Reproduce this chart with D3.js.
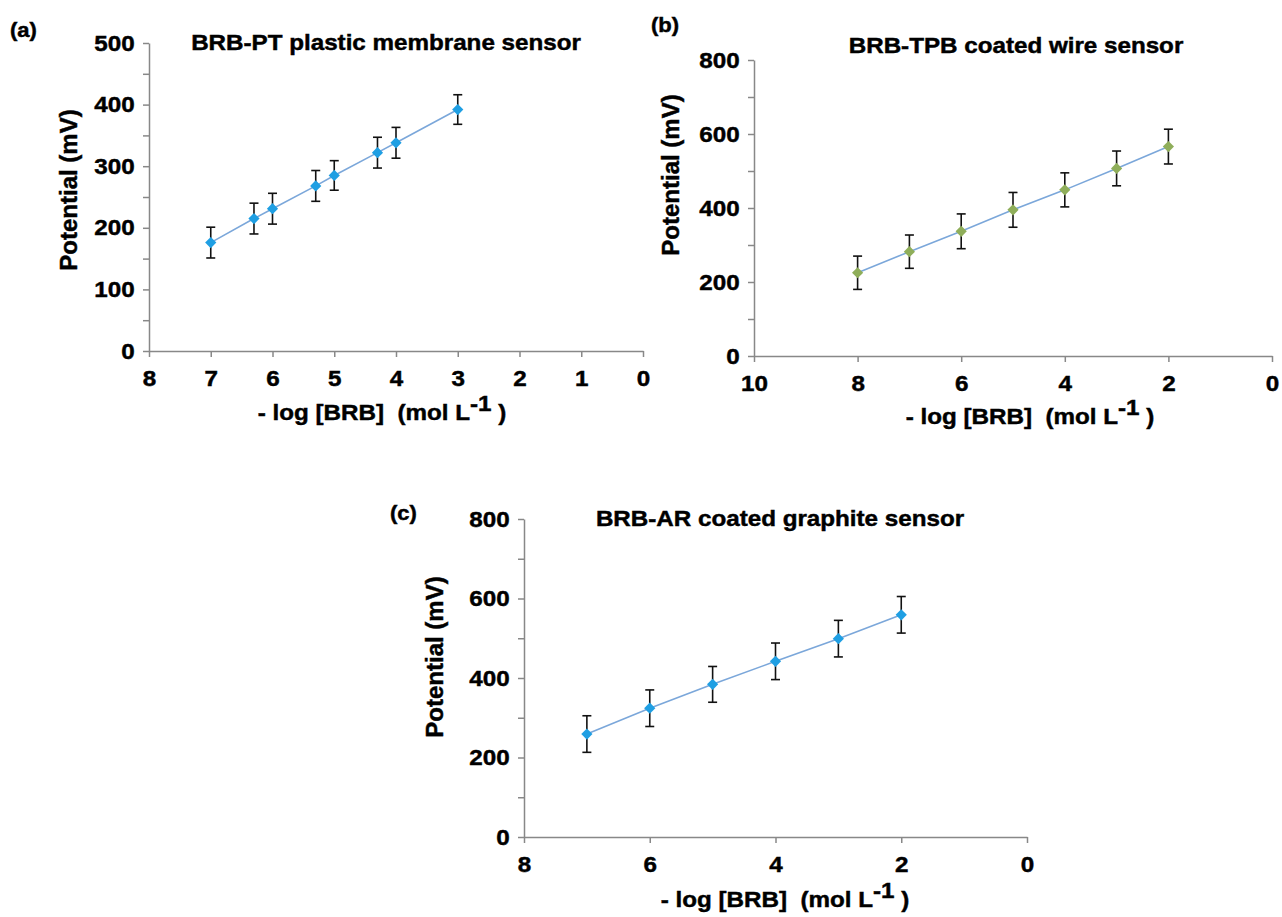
<!DOCTYPE html>
<html>
<head>
<meta charset="utf-8">
<script src="https://cdn.jsdelivr.net/npm/d3@7"></script>
<style>
  body { margin: 0; background: #fff; }
  svg { font-family: "Liberation Sans", Arial, sans-serif; font-weight: bold; }
  svg text { stroke: #000; stroke-width: 0.45; white-space: pre; }
  .axis path, .axis line { stroke: #888; stroke-width: 1.5; }
  .axis text { fill: #000; font-size: 22px; font-weight: bold; }
</style>
</head>
<body>
<svg id="chart" width="1282" height="917"></svg>
<script>
// panel (a) BRB-PT plastic membrane sensor
const xA = [7, 6.3, 6, 5.3, 5, 4.3, 4, 3];
const yA = [176, 215, 231, 268, 285, 322, 338, 392];
const errA = [25, 25, 25, 25, 24, 25, 25, 24];
// panel (b) BRB-TPB coated wire sensor
const xB = [8, 7, 6, 5, 4, 3, 2];
const yB = [225, 282, 337, 395, 449, 507, 566];
const errB = [45, 45, 47, 47, 46, 47, 47];
// panel (c) BRB-AR coated graphite sensor
const xC = [7, 6, 5, 4, 3, 2];
const yC = [259, 324, 384, 442, 499, 559];
const errC = [46, 46, 45, 46, 46, 46];

const titles = ["BRB-PT plastic membrane sensor", "BRB-TPB coated wire sensor", "BRB-AR coated graphite sensor"];
const tags = ["(a)", "(b)", "(c)"];

const SX = 1.1; // text looks a bit wider than plain Arial
const svg = d3.select("#chart");

const panels = [
  { x: xA, y: yA, err: errA, title: titles[0], tag: tags[0], mark: "#1f9fe3",
    xdom: [8, 0], xr: [149, 643], xticks: d3.range(0, 9, 1),
    ydom: [0, 500], yr: [351, 43], yticks: d3.range(0, 501, 50), ymaj: 100,
    titlePos: [386, 50], tagPos: [10, 37], ylabPos: [68, 190], xlabPos: [382, 420] },
  { x: xB, y: yB, err: errB, title: titles[1], tag: tags[1], mark: "#8fae5a",
    xdom: [10, 0], xr: [754, 1272], xticks: d3.range(0, 11, 2),
    ydom: [0, 800], yr: [356, 60], yticks: d3.range(0, 801, 100), ymaj: 200,
    titlePos: [1016, 53], tagPos: [651, 32], ylabPos: [670, 175], xlabPos: [1030, 424] },
  { x: xC, y: yC, err: errC, title: titles[2], tag: tags[2], mark: "#1f9fe3",
    xdom: [8, 0], xr: [524, 1027], xticks: d3.range(0, 9, 2),
    ydom: [0, 800], yr: [837, 519], yticks: d3.range(0, 801, 100), ymaj: 200,
    titlePos: [780, 526], tagPos: [390, 520], ylabPos: [434, 657], xlabPos: [785, 907] }
];

function stretchText(g, pos, str, size, anchor) {
  return g.append("g")
    .attr("transform", `translate(${pos[0]},${pos[1]}) scale(${SX},1)`)
    .append("text")
    .attr("text-anchor", anchor || "middle")
    .attr("font-size", size)
    .text(str);
}

panels.forEach(p => {
  const g = svg.append("g");
  const x = d3.scaleLinear().domain(p.xdom).range(p.xr);
  const y = d3.scaleLinear().domain(p.ydom).range(p.yr);

  const yAxis = g.append("g").attr("class", "axis")
    .attr("transform", `translate(${p.xr[0]},0)`)
    .call(d3.axisLeft(y).tickValues(p.yticks).tickSize(6).tickSizeOuter(0).tickPadding(7)
      .tickFormat(d => d % p.ymaj === 0 ? d : ""));
  yAxis.selectAll("text").attr("transform", `scale(${SX},1)`);

  const xAxis = g.append("g").attr("class", "axis")
    .attr("transform", `translate(0,${p.yr[0]})`)
    .call(d3.axisBottom(x).tickValues(p.xticks).tickSize(6).tickSizeOuter(0).tickPadding(13));
  xAxis.selectAll("text").attr("transform", `scale(${SX},1)`);

  const pts = p.x.map((v, i) => ({ x: v, y: p.y[i], e: p.err[i] }));

  // error bars
  const eb = g.append("g").attr("stroke", "#111").attr("stroke-width", 1.6);
  pts.forEach(d => {
    const cx = x(d.x), y1 = y(d.y + d.e), y2 = y(d.y - d.e);
    eb.append("line").attr("x1", cx).attr("x2", cx).attr("y1", y1).attr("y2", y2);
    eb.append("line").attr("x1", cx - 4.5).attr("x2", cx + 4.5).attr("y1", y1).attr("y2", y1);
    eb.append("line").attr("x1", cx - 4.5).attr("x2", cx + 4.5).attr("y1", y2).attr("y2", y2);
  });

  g.append("path")
    .datum(pts)
    .attr("fill", "none")
    .attr("stroke", "#7ba7da")
    .attr("stroke-width", 1.6)
    .attr("d", d3.line().x(d => x(d.x)).y(d => y(d.y)));

  g.selectAll(".mk").data(pts).enter().append("path")
    .attr("class", "mk")
    .attr("transform", d => `translate(${x(d.x)},${y(d.y)})`)
    .attr("d", d3.symbol().type(d3.symbolDiamond2).size(80))
    .attr("fill", p.mark);

  stretchText(g, p.titlePos, p.title, 22);
  stretchText(g, p.tagPos, p.tag, 20, "start");

  g.append("text")
    .attr("transform", `translate(${p.ylabPos[0]},${p.ylabPos[1]}) rotate(-90)`)
    .attr("text-anchor", "middle")
    .attr("dy", "0.36em")
    .attr("font-size", 24)
    .text("Potential (mV)");

  const xl = stretchText(g, p.xlabPos, "", 22);
  xl.append("tspan").text("- log [BRB]  (mol L");
  xl.append("tspan").attr("dy", -9).text("-1");
  xl.append("tspan").attr("dy", 9).text(" )");
});
</script>
</body>
</html>
